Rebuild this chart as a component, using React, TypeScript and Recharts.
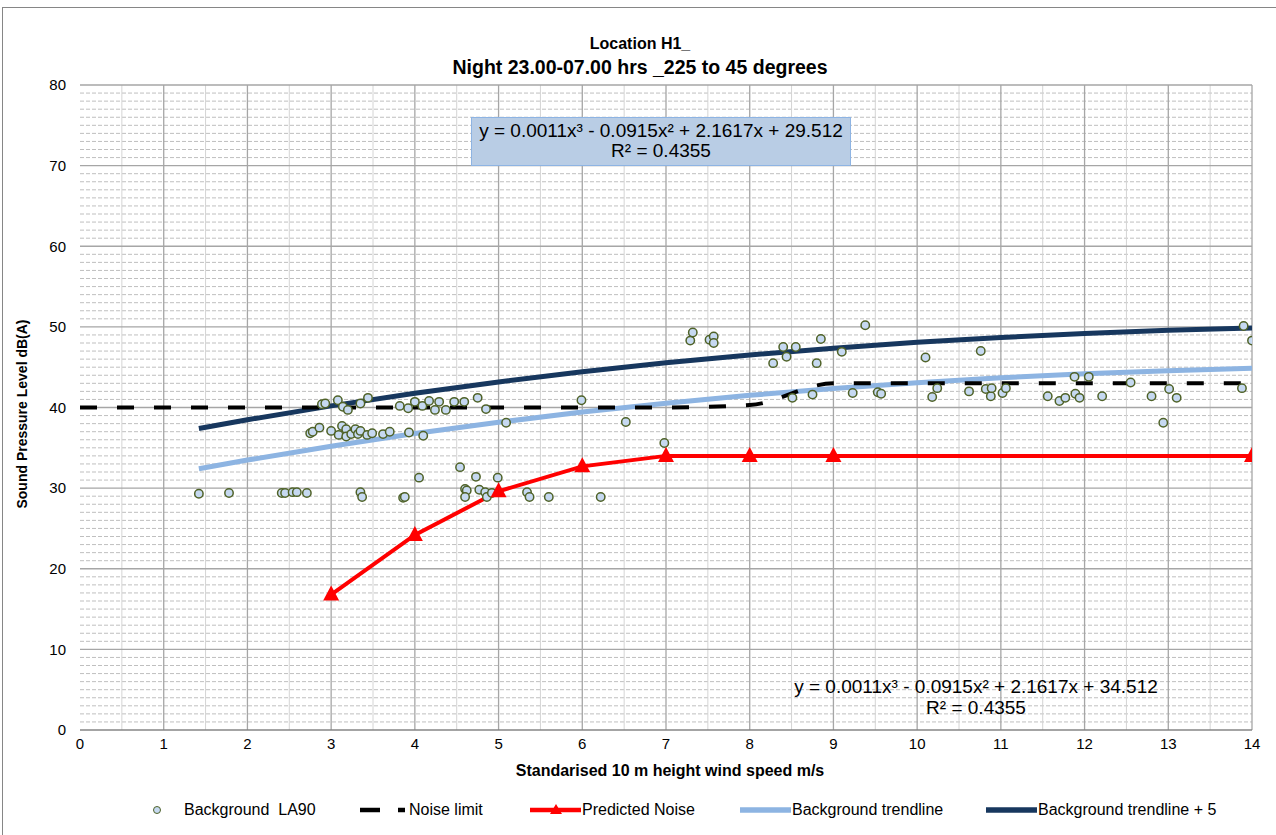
import React from 'react';
import { ComposedChart, Line, Scatter, XAxis, YAxis, CartesianGrid } from 'recharts';

// Background LA90 measurements [wind speed m/s, dB(A)]
const backgroundLA90: [number, number][] = [
  [1.42, 29.3], [1.78, 29.4], [2.41, 29.4], [2.45, 29.4], [2.54, 29.5], [2.59, 29.5], [2.71, 29.4],
  [3.35, 29.5], [3.37, 28.9], [3.86, 28.8], [3.88, 28.9], [4.6, 29.9], [4.62, 29.7], [4.6, 28.9],
  [4.77, 29.8], [4.84, 29.5], [4.86, 28.9], [4.92, 29.4], [5.34, 29.5], [5.37, 28.9], [5.6, 28.9],
  [6.22, 28.9], [4.05, 31.3], [4.54, 32.6], [4.73, 31.4], [4.99, 31.3], [6.98, 35.6],
  [2.75, 36.8], [2.78, 37.0], [2.86, 37.5], [3.0, 37.1], [3.09, 36.6], [3.13, 37.7], [3.18, 37.3],
  [3.18, 36.4], [3.24, 36.7], [3.29, 37.3], [3.32, 36.7], [3.35, 37.1], [3.43, 36.6], [3.49, 36.8],
  [3.62, 36.7], [3.7, 37.0], [3.93, 36.9], [4.1, 36.5], [5.09, 38.1], [6.52, 38.2],
  [2.89, 40.4], [2.93, 40.5], [3.08, 40.9], [3.14, 40.1], [3.2, 39.7], [3.35, 40.5], [3.44, 41.2],
  [3.82, 40.2], [3.92, 39.9], [4.0, 40.7], [4.09, 40.2], [4.17, 40.8], [4.24, 39.7], [4.29, 40.7],
  [4.37, 39.7], [4.47, 40.7], [4.59, 40.7], [4.75, 41.2], [4.85, 39.8], [5.99, 40.9],
  [7.29, 48.3], [7.32, 49.3], [7.52, 48.4], [7.57, 48.8], [7.57, 48.0], [8.28, 45.5], [8.4, 47.5],
  [8.44, 46.3], [8.55, 47.5], [8.8, 45.5], [8.85, 48.5], [9.1, 46.9], [9.38, 50.2], [10.1, 46.2],
  [10.76, 47.0], [13.9, 50.1], [14.0, 48.3],
  [8.51, 41.2], [8.75, 41.6], [9.23, 41.8], [9.53, 41.9], [9.57, 41.7], [10.18, 41.3], [10.24, 42.4],
  [10.62, 42.0], [10.82, 42.3], [10.88, 41.4], [10.89, 42.4], [11.02, 41.8], [11.06, 42.4],
  [11.56, 41.4], [11.7, 40.8], [11.77, 41.2], [11.88, 43.8], [11.89, 41.7], [11.94, 41.2],
  [12.05, 43.8], [12.21, 41.4], [12.55, 43.1], [12.8, 41.4], [12.94, 38.1], [13.01, 42.3],
  [13.1, 41.2], [13.88, 42.4],
];

const noiseLimitX = [0, 1, 2, 3, 4, 5, 6, 7, 8, 9, 10, 11, 12, 13, 14];
const noiseLimitY = [40, 40, 40, 40, 40, 40, 40, 40, 40.3, 43, 43, 43, 43, 43, 43];

const predictedX = [3, 4, 5, 6, 7, 8, 9, 14];
const predictedY = [16.8, 24.2, 29.6, 32.7, 34, 34, 34, 34];

const trendX = [1.42, 2, 3, 4, 5, 6, 7, 8, 9, 10, 11, 12, 13, 14];
const trendY = [32.4, 33.48, 35.2, 36.77, 38.17, 39.43, 40.54, 41.51, 42.36, 43.08, 43.68, 44.18, 44.57, 44.86];
const trendPlus5Y = [37.4, 38.48, 40.2, 41.77, 43.17, 44.43, 45.54, 46.51, 47.36, 48.08, 48.68, 49.18, 49.57, 49.86];

const xTicks = [0, 1, 2, 3, 4, 5, 6, 7, 8, 9, 10, 11, 12, 13, 14];
const yTicks = [0, 10, 20, 30, 40, 50, 60, 70, 80];
const yMinor = Array.from({ length: 80 }, (_, i) => i).filter((v) => v % 10 !== 0);
const yMajor = [10, 20, 30, 40, 50, 60, 70, 80];
const xHalf = [0.5, 1.5, 2.5, 3.5, 4.5, 5.5, 6.5, 7.5, 8.5, 9.5, 10.5, 11.5, 12.5, 13.5];
const xMajor = [1, 2, 3, 4, 5, 6, 7, 8, 9, 10, 11, 12, 13, 14];

const scatterData = backgroundLA90.map(([x, y]) => ({ x, y }));
const noiseData = noiseLimitX.map((x, i) => ({ x, y: noiseLimitY[i] }));
const predictedData = predictedX.map((x, i) => ({ x, y: predictedY[i] }));
const trendData = trendX.map((x, i) => ({ x, y: trendY[i] }));
const trend5Data = trendX.map((x, i) => ({ x, y: trendPlus5Y[i] }));

const FONT = '"Liberation Sans", Arial, sans-serif';

const Circle = (props: any) => {
  const { cx, cy } = props;
  if (cx == null || cy == null) return <g />;
  return <circle cx={cx} cy={cy} r={4.2} fill="#c6d9f1" stroke="#4f6228" strokeWidth={1.5} />;
};

const Triangle = (props: any) => {
  const { cx, cy, index } = props;
  if (cx == null || cy == null) return <g key={`t${index}`} />;
  return (
    <polygon
      key={`t${index}`}
      points={`${cx},${cy - 9} ${cx + 8},${cy + 6} ${cx - 8},${cy + 6}`}
      fill="#ff0000"
    />
  );
};

const legendItems = [
  { label: 'Background  LA90', kind: 'circle', left: 150 },
  { label: 'Noise limit', kind: 'dash', left: 357 },
  { label: 'Predicted Noise', kind: 'red', left: 529 },
  { label: 'Background trendline', kind: 'light', left: 739 },
  { label: 'Background trendline + 5', kind: 'navy', left: 985 },
];

const LegendMarker = ({ kind }: { kind: string }) => {
  if (kind === 'circle')
    return (
      <svg width={26} height={14}>
        <circle cx={7} cy={7} r={3.5} fill="#c6d9f1" stroke="#4f6228" strokeWidth={1} />
      </svg>
    );
  if (kind === 'dash')
    return (
      <svg width={52} height={14}>
        <line x1={3} y1={7} x2={23} y2={7} stroke="#000" strokeWidth={4.5} />
        <line x1={41} y1={7} x2={48} y2={7} stroke="#000" strokeWidth={4.5} />
      </svg>
    );
  if (kind === 'red')
    return (
      <svg width={53} height={14}>
        <line x1={1} y1={7} x2={52} y2={7} stroke="#ff0000" strokeWidth={4.5} />
        <polygon points="27,1 33,11 21,11" fill="#ff0000" />
      </svg>
    );
  const color = kind === 'light' ? '#8db4e2' : '#17375e';
  return (
    <svg width={53} height={14}>
      <line x1={1} y1={7} x2={52} y2={7} stroke={color} strokeWidth={5.5} />
    </svg>
  );
};

export default function App() {
  return (
    <div style={{ position: 'absolute', left: 0, top: 0, width: 1276, height: 835, background: '#fff', fontFamily: FONT, overflow: 'hidden' }}>
      <div style={{ position: 'absolute', left: 2, top: 7, width: 1300, height: 900, borderTop: '1px solid #868686', borderLeft: '1px solid #868686' }} />
      <ComposedChart
        width={1276}
        height={835}
        margin={{ top: 85, right: 24, bottom: 75, left: 20 }}
        style={{ position: 'absolute', left: 0, top: 0 }}
      >
        <CartesianGrid horizontalValues={yMinor} vertical={false} stroke="#bfbfbf" strokeDasharray="4 2" />
        <CartesianGrid verticalValues={xHalf} horizontal={false} stroke="#d4d4d4" />
        <CartesianGrid horizontalValues={yMajor} verticalValues={xMajor} stroke="#a6a6a6" strokeWidth={1.3} />
        <XAxis
          type="number"
          dataKey="x"
          domain={[0, 14]}
          ticks={xTicks}
          interval={0}
          allowDataOverflow
          tickLine={false}
          axisLine={{ stroke: '#868686', strokeWidth: 1.3 }}
          tick={{ fill: '#000', fontSize: 15, fontFamily: FONT }}
          height={30}
        />
        <YAxis
          type="number"
          domain={[0, 80]}
          ticks={yTicks}
          interval={0}
          allowDataOverflow
          tickLine={false}
          axisLine={false}
          tickMargin={8}
          tick={{ fill: '#000', fontSize: 15, fontFamily: FONT }}
          width={60}
        />
        <Line data={trendData} dataKey="y" type="monotone" stroke="#8db4e2" strokeWidth={5} dot={false} isAnimationActive={false} />
        <Line data={trend5Data} dataKey="y" type="monotone" stroke="#17375e" strokeWidth={5} dot={false} isAnimationActive={false} />
        <Line data={noiseData} dataKey="y" type="monotone" stroke="#000" strokeWidth={4} strokeDasharray="17 20" dot={false} isAnimationActive={false} />
        <Scatter data={scatterData} dataKey="y" shape={Circle} isAnimationActive={false} />
        <Line data={predictedData} dataKey="y" type="linear" stroke="#ff0000" strokeWidth={4} dot={Triangle} activeDot={false} isAnimationActive={false} />
      </ComposedChart>

      <div style={{ position: 'absolute', left: 0, top: 33, width: 1280, textAlign: 'center', fontWeight: 'bold', color: '#000' }}>
        <div style={{ fontSize: 16, lineHeight: '22px' }}>Location H1_</div>
        <div style={{ fontSize: 19.5, lineHeight: '24px' }}>Night 23.00-07.00 hrs _225 to 45 degrees</div>
      </div>

      <div style={{ position: 'absolute', left: 471, top: 117, width: 380, height: 49, boxSizing: 'border-box', background: '#b9cde5', border: '1px solid #8eb4e3', textAlign: 'center', fontSize: 19, lineHeight: '20px', paddingTop: 3, color: '#000', whiteSpace: 'nowrap' }}>
        <div>y = 0.0011x³ - 0.0915x² + 2.1617x + 29.512</div>
        <div>R² = 0.4355</div>
      </div>

      <div style={{ position: 'absolute', left: 776, top: 676, width: 400, textAlign: 'center', fontSize: 19, lineHeight: '21px', color: '#000', whiteSpace: 'nowrap' }}>
        <div>y = 0.0011x³ - 0.0915x² + 2.1617x + 34.512</div>
        <div>R² = 0.4355</div>
      </div>

      <div style={{ position: 'absolute', left: 22, top: 414, transform: 'translate(-50%, -50%) rotate(-90deg)', whiteSpace: 'nowrap', fontWeight: 'bold', fontSize: 14, color: '#000' }}>
        Sound Pressure Level dB(A)
      </div>
      <div style={{ position: 'absolute', left: 370, top: 762, width: 600, textAlign: 'center', fontWeight: 'bold', fontSize: 16, color: '#000' }}>
        Standarised 10 m height wind speed m/s
      </div>

      {legendItems.map((it) => (
        <div key={it.label} style={{ position: 'absolute', left: it.left, top: 801, display: 'flex', alignItems: 'center', fontSize: 16, color: '#000', whiteSpace: 'pre' }}>
          <LegendMarker kind={it.kind} />
          <span style={{ marginLeft: it.kind === 'circle' ? 8 : 0 }}>{it.label}</span>
        </div>
      ))}
    </div>
  );
}
